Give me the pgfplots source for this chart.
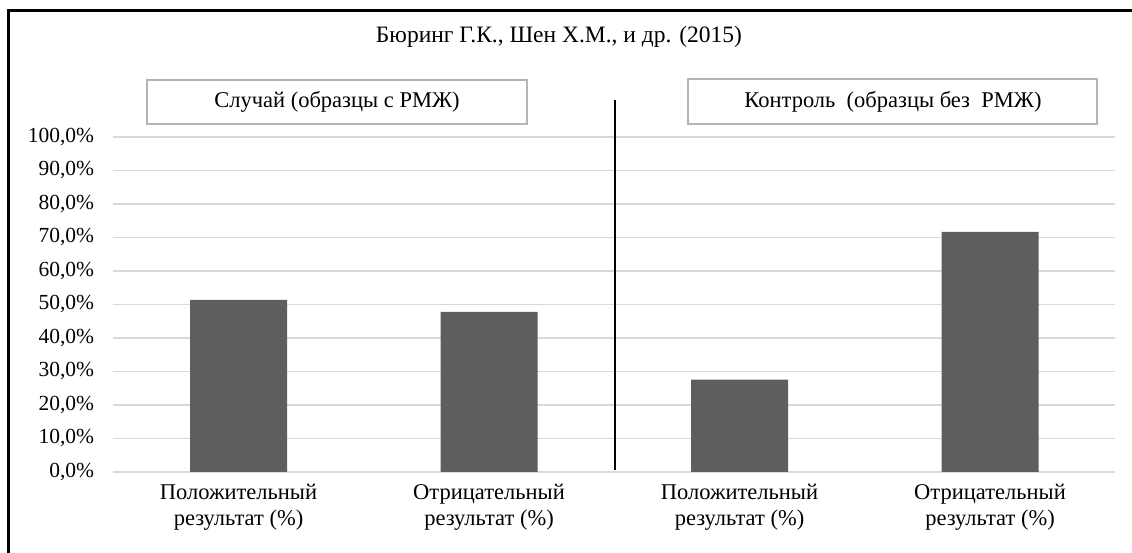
\documentclass[border=0pt]{standalone}
\usepackage{fontspec}
\setmainfont{Liberation Serif}
\usepackage{pgfplots}
\pgfplotsset{compat=1.18}
\definecolor{bargray}{RGB}{94,94,94}
\definecolor{gridgray}{RGB}{217,217,217}
\definecolor{boxgray}{RGB}{180,180,180}
\begin{document}
\begin{tikzpicture}
\useasboundingbox (0bp,0bp) rectangle (1132bp,553bp);
\draw[line width=3bp] (8bp,0bp) -- (8bp,542bp) -- (1132bp,542bp);
\node[font=\fontsize{23.5bp}{26bp}\selectfont] at (559bp,516bp) {Бюринг Г.К., Шен Х.М., и др. (2015)};
\draw[draw=boxgray, line width=1.6bp] (147bp,473bp) rectangle (527bp,429bp);
\node[font=\fontsize{22.5bp}{25bp}\selectfont] at (337bp,451bp) {Случай (образцы с РМЖ)};
\draw[draw=boxgray, line width=1.6bp] (688bp,474bp) rectangle (1097bp,429bp);
\node[font=\fontsize{22.5bp}{25bp}\selectfont] at (893bp,451bp) {Контроль\ \ (образцы без\ \ РМЖ)};
\begin{axis}[
  at={(113.3bp,81bp)}, anchor=south west,
  scale only axis, width=1002bp, height=335bp,
  xmin=-0.5, xmax=3.5, ymin=0, ymax=100,
  clip=false,
  axis x line*=bottom, axis y line*=left,
  x axis line style={draw=gridgray, line width=1.5bp, -},
  y axis line style={draw=none},
  ymajorgrids, grid style={draw=gridgray, line width=1.3bp},
  ytick={0,10,...,100},
  yticklabels={{0,0\%},{10,0\%},{20,0\%},{30,0\%},{40,0\%},{50,0\%},{60,0\%},{70,0\%},{80,0\%},{90,0\%},{100,0\%}},
  ytick style={draw=none},
  yticklabel style={font=\fontsize{21.5bp}{24bp}\selectfont, inner sep=0pt, xshift=-19bp},
  xtick={0,1,2,3},
  xtick style={draw=none},
  xticklabels={{Положительный\\результат (\%)},{Отрицательный\\результат (\%)},{Положительный\\результат (\%)},{Отрицательный\\результат (\%)}},
  xticklabel style={font=\fontsize{22.5bp}{25.5bp}\selectfont, align=center, yshift=-9bp},
  extra x ticks={-0.5,0.5,1.5,2.5,3.5},
  extra x tick labels={},
  extra x tick style={grid=none, tick align=outside, major tick length=7bp,
     tick style={draw=gridgray, line width=1.5bp}},
]
\addplot[ybar, bar width=0.387, fill=bargray, draw=none] coordinates {(0,51.4) (1,47.8) (2,27.6) (3,71.7)};
\draw[black, line width=1.2bp] (axis cs:1.503,0.6) -- (axis cs:1.503,111);
\end{axis}
\end{tikzpicture}
\end{document}
